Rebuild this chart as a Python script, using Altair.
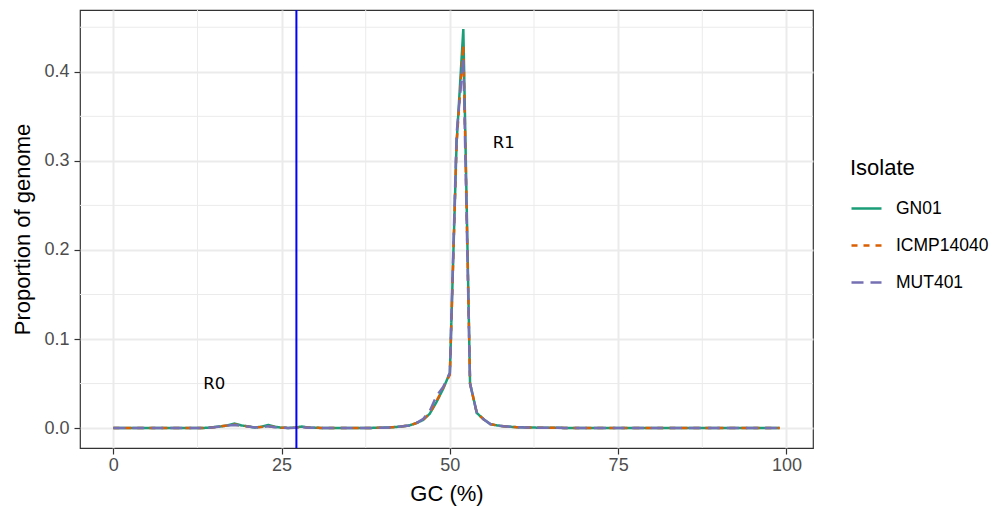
import altair as alt
import pandas as pd

gc = list(range(100))

gn01 = [0, 0, 0, 0, 0, 0, 0, 0, 0, 0,
        0, 0, 0, 0, 0.0004, 0.0012, 0.002, 0.003, 0.005, 0.003,
        0.002, 0.0006, 0.0015, 0.0035, 0.0015, 0.0004, 0.0002, 0.0004, 0.0018, 0.0006,
        0.0003, 0.0002, 0.0002, 0.0001, 0.0001, 0.0001, 0.0001, 0.0002, 0.0002, 0.0003,
        0.0005, 0.0008, 0.0012, 0.002, 0.003, 0.0055, 0.009, 0.016, 0.029, 0.044,
        0.062, 0.32, 0.448, 0.05, 0.017, 0.01, 0.0045, 0.003, 0.002, 0.0015,
        0.001, 0.0008, 0.0006, 0.0005, 0.0004, 0.0003, 0.0003, 0.0002, 0.0002, 0.0002,
        0.0001, 0.0001, 0.0001, 0.0001, 0.0001, 0.0001, 0.0001, 0.0001, 0.0001, 0.0001,
        0, 0, 0, 0, 0, 0, 0, 0, 0, 0,
        0, 0, 0, 0, 0, 0, 0, 0, 0, 0]

icmp14040 = [0, 0, 0, 0, 0, 0, 0, 0, 0, 0,
             0, 0, 0, 0, 0.0003, 0.001, 0.002, 0.003, 0.004, 0.003,
             0.0018, 0.0008, 0.0012, 0.002, 0.0012, 0.0004, 0.0002, 0.0004, 0.0012, 0.0005,
             0.0003, 0.0002, 0.0002, 0.0001, 0.0001, 0.0001, 0.0001, 0.0002, 0.0002, 0.0003,
             0.0005, 0.0008, 0.0012, 0.002, 0.003, 0.0055, 0.009, 0.017, 0.03, 0.045,
             0.06, 0.32, 0.43, 0.05, 0.017, 0.01, 0.0045, 0.003, 0.002, 0.0015,
             0.001, 0.0008, 0.0006, 0.0005, 0.0004, 0.0003, 0.0003, 0.0002, 0.0002, 0.0002,
             0.0001, 0.0001, 0.0001, 0.0001, 0.0001, 0.0001, 0.0001, 0.0001, 0.0001, 0.0001,
             0, 0, 0, 0, 0, 0, 0, 0, 0, 0,
             0, 0, 0, 0, 0, 0, 0, 0, 0, 0]

mut401 = [0, 0, 0, 0, 0, 0, 0, 0, 0, 0,
          0, 0, 0, 0, 0.0003, 0.001, 0.002, 0.003, 0.0035, 0.003,
          0.0018, 0.0008, 0.001, 0.002, 0.001, 0.0004, 0.0002, 0.0004, 0.001, 0.0005,
          0.0003, 0.0002, 0.0002, 0.0001, 0.0001, 0.0001, 0.0001, 0.0002, 0.0002, 0.0003,
          0.0005, 0.0008, 0.0012, 0.002, 0.003, 0.0055, 0.01, 0.019, 0.036, 0.046,
          0.062, 0.33, 0.416, 0.05, 0.017, 0.01, 0.0045, 0.003, 0.002, 0.0015,
          0.001, 0.0008, 0.0006, 0.0005, 0.0004, 0.0003, 0.0003, 0.0002, 0.0002, 0.0002,
          0.0001, 0.0001, 0.0001, 0.0001, 0.0001, 0.0001, 0.0001, 0.0001, 0.0001, 0.0001,
          0, 0, 0, 0, 0, 0, 0, 0, 0, 0,
          0, 0, 0, 0, 0, 0, 0, 0, 0, 0]

isolates = ["GN01", "ICMP14040", "MUT401"]
colors = ["#1B9E77", "#D95F02", "#7570B3"]
dashes = [[1, 0], [6, 6], [12, 7]]

x_ticks = [0, 25, 50, 75, 100]
y_ticks = [0.0, 0.1, 0.2, 0.3, 0.4]
x_minor = [12.5, 37.5, 62.5, 87.5]
y_minor = [0.05, 0.15, 0.25, 0.35, 0.45]

cutoff = [27.2]
label_text = ["R0", "R1"]
label_x = [15, 58]
label_y = [0.05, 0.32]

x_dom = [-4.95, 103.95]
y_dom = [-0.02235, 0.46935]

rows = []
for name, vals in zip(isolates, [gn01, icmp14040, mut401]):
    for g, v in zip(gc, vals):
        rows.append({"gc": g, "prop": v, "Isolate": name})
df = pd.DataFrame(rows)

FONT = "Liberation Sans"

xscale = alt.Scale(domain=x_dom, nice=False, zero=False)
yscale = alt.Scale(domain=y_dom, nice=False, zero=False)

xaxis = alt.Axis(values=x_ticks, grid=True, gridColor="#EBEBEB", gridWidth=2,
                 domain=False, tickColor="#333333", tickSize=6, tickWidth=1.2,
                 labelColor="#4D4D4D", labelFontSize=18, labelPadding=2,
                 labelFont=FONT, titleFont=FONT, titleFontSize=22,
                 titleFontWeight="normal", titleColor="black",
                 titleBaseline="middle", titleY=45)
yaxis = alt.Axis(values=y_ticks, format=".1f", grid=True, gridColor="#EBEBEB",
                 gridWidth=2, domain=False, tickColor="#333333", tickSize=6,
                 tickWidth=1.2, labelColor="#4D4D4D", labelFontSize=18,
                 labelPadding=5, labelFont=FONT, titleFont=FONT,
                 titleFontSize=22, titleFontWeight="normal", titleColor="black",
                 titleBaseline="middle", titleX=-58)

XT = "GC (%)"
YT = "Proportion of genome"

xminor = alt.Chart(pd.DataFrame({"v": x_minor})).mark_rule(
    color="#EBEBEB", strokeWidth=1
).encode(x=alt.X("v:Q", scale=xscale, axis=xaxis, title=XT))

yminor = alt.Chart(pd.DataFrame({"v": y_minor})).mark_rule(
    color="#EBEBEB", strokeWidth=1
).encode(y=alt.Y("v:Q", scale=yscale, axis=yaxis, title=YT))

lines = alt.Chart(df).mark_line(strokeWidth=2.5).encode(
    x=alt.X("gc:Q", scale=xscale, axis=xaxis, title=XT),
    y=alt.Y("prop:Q", scale=yscale, axis=yaxis, title=YT),
    color=alt.Color("Isolate:N", scale=alt.Scale(domain=isolates, range=colors),
                    legend=alt.Legend(title="Isolate")),
    strokeDash=alt.StrokeDash("Isolate:N", scale=alt.Scale(domain=isolates, range=dashes),
                              legend=alt.Legend(title="Isolate")),
    order=alt.Order("gc:Q"),
)

vline = alt.Chart(pd.DataFrame({"v": cutoff})).mark_rule(
    color="#0000FF", strokeWidth=2
).encode(x=alt.X("v:Q", scale=xscale, axis=xaxis, title=XT))

labels = alt.Chart(pd.DataFrame({"t": label_text, "x": label_x, "y": label_y})).mark_text(
    font="DejaVu Sans", fontSize=16.5, color="black", align="center", baseline="middle"
).encode(x=alt.X("x:Q", scale=xscale, axis=xaxis, title=XT),
         y=alt.Y("y:Q", scale=yscale, axis=yaxis, title=YT), text="t:N")

chart = alt.layer(xminor, yminor, lines, vline, labels).properties(
    width=733, height=438,
    autosize=alt.AutoSizeParams(type="none"),
    padding={"left": 72, "top": 2, "right": 178, "bottom": 58},
).configure_view(
    stroke="#333333", strokeWidth=1.2
).configure_legend(
    orient="none", legendX=770, legendY=148,
    titleFont=FONT, titleFontSize=22, titleFontWeight="normal", titleColor="black",
    titlePadding=12, labelFont=FONT, labelFontSize=17.5, labelColor="black",
    labelOffset=13, symbolType="stroke", symbolSize=900, symbolStrokeWidth=2.5,
    rowPadding=12, padding=0,
)

chart.save("out.html", embed_options={"renderer": "svg", "actions": False})
